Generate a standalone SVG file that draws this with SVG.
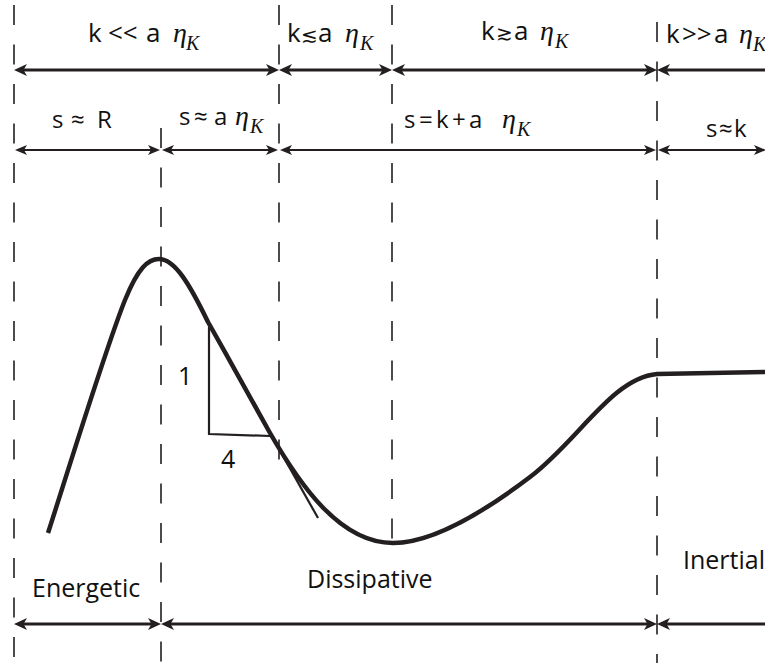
<svg xmlns="http://www.w3.org/2000/svg" width="765" height="663" viewBox="0 0 765 663">
  <defs>
    <marker id="ah" viewBox="0 0 13 12" markerUnits="userSpaceOnUse" markerWidth="13" markerHeight="12" refX="7" refY="6" orient="auto-start-reverse">
      <path d="M0,0 L13,6 L0,12 L3.5,6 Z" fill="#231f20"/>
    </marker>
    <marker id="ahs" viewBox="0 0 12 10" markerUnits="userSpaceOnUse" markerWidth="12" markerHeight="10" refX="7" refY="5" orient="auto-start-reverse">
      <path d="M0,0 L12,5 L0,10 L3,5 Z" fill="#231f20"/>
    </marker>
  </defs>
  <style>
    .dash { stroke: #231f20; stroke-width: 1.6; stroke-dasharray: 20 19.5; fill: none; }
    .thick { stroke: #231f20; stroke-width: 3; fill: none; marker-start: url(#ah); marker-end: url(#ah); }
    .thin { stroke: #231f20; stroke-width: 1.8; fill: none; marker-start: url(#ahs); marker-end: url(#ahs); }
    .curve { stroke: #231f20; stroke-width: 4.5; fill: none; stroke-linecap: butt; stroke-linejoin: round; }
    .tri { stroke: #231f20; stroke-width: 2.2; fill: none; }
    text { fill: #111; font-family: "Open Sans", "Noto Sans", sans-serif; }
    .t1 { font-size: 26px; }
    .t2 { font-size: 24px; }
    .t3 { font-size: 25px; }
    .num { font-size: 25px; }
    .eta { font-family: "Liberation Serif", serif; font-style: italic; font-size: 28px; }
    .sub { font-family: "Liberation Serif", serif; font-style: italic; font-size: 20px; }
    .sym { font-family: "DejaVu Sans", sans-serif; font-size: 20px; }
  </style>

  <g id="dividers">
    <line class="dash" x1="14" y1="5" x2="14" y2="663"/>
    <line class="dash" x1="161" y1="128" x2="161" y2="663"/>
    <line class="dash" x1="279" y1="5" x2="279" y2="470"/>
    <line class="dash" x1="392" y1="5" x2="392" y2="543"/>
    <line class="dash" x1="657" y1="22" x2="657" y2="663"/>
  </g>

  <g id="connectors">
    <line class="thick" x1="20" y1="70" x2="273" y2="70"/>
    <line class="thick" x1="285" y1="70" x2="386" y2="70"/>
    <line class="thick" x1="398" y1="70" x2="651" y2="70"/>
    <line class="thick" x1="663" y1="70" x2="790" y2="70"/>

    <line class="thin" x1="20" y1="150" x2="155" y2="150"/>
    <line class="thin" x1="167" y1="150" x2="273" y2="150"/>
    <line class="thin" x1="285" y1="150" x2="651" y2="150"/>
    <line class="thin" x1="663" y1="150" x2="761" y2="150"/>

    <line class="thick" x1="20" y1="624" x2="155" y2="624"/>
    <line class="thick" x1="167" y1="624" x2="651" y2="624"/>
    <line class="thick" x1="663" y1="624" x2="790" y2="624"/>
  </g>

  <g id="curve">
    <path class="curve" d="M48,533 C70,465 105,350 125,300 C138,268 148,259 159,259 C175,259 190,285 208,322 C229,359 250,397 270,433 C300,485 340,543 393,543 C430,543 480,515 530,477 C578,441 612,378 657,374 L765,372"/>
  </g>

  <g id="slope">
    <polyline class="tri" points="209,327 209,434 270,436"/>
    <line class="tri" x1="240" y1="380" x2="318" y2="518"/>
    <text class="num" x="178" y="385">1</text>
    <text class="num" x="221" y="468">4</text>
  </g>

  <g id="top-labels">
    <text class="t1" y="42"><tspan x="88">k</tspan><tspan x="108">&lt;&lt;</tspan><tspan x="146">a</tspan><tspan class="eta" x="173">η</tspan><tspan class="sub" x="186" y="50">K</tspan></text>
    <text class="t1" y="42"><tspan x="287">k</tspan><tspan class="sym" x="301">≲</tspan><tspan x="318">a</tspan><tspan class="eta" x="345">η</tspan><tspan class="sub" x="360" y="50">K</tspan></text>
    <text class="t1" y="40"><tspan x="481">k</tspan><tspan class="sym" x="496">≳</tspan><tspan x="514">a</tspan><tspan class="eta" x="540">η</tspan><tspan class="sub" x="555" y="48">K</tspan></text>
    <text class="t1" y="43"><tspan x="666">k</tspan><tspan x="682">&gt;&gt;</tspan><tspan x="714">a</tspan><tspan class="eta" x="739">η</tspan><tspan class="sub" x="753" y="51">K</tspan></text>
  </g>

  <g id="mid-labels">
    <text class="t2" y="128"><tspan x="52">s</tspan><tspan x="71">≈</tspan><tspan x="97">R</tspan></text>
    <text class="t2" y="125"><tspan x="179">s</tspan><tspan x="194">≈</tspan><tspan x="214">a</tspan><tspan class="eta" x="235">η</tspan><tspan class="sub" x="250" y="133">K</tspan></text>
    <text class="t2" y="128"><tspan x="404">s</tspan><tspan x="419">=</tspan><tspan x="436">k</tspan><tspan x="452">+</tspan><tspan x="469">a</tspan><tspan class="eta" x="502">η</tspan><tspan class="sub" x="517" y="136">K</tspan></text>
    <text class="t2" y="137"><tspan x="706">s</tspan><tspan x="719">≈</tspan><tspan x="734">k</tspan></text>
  </g>

  <g id="region-labels">
    <text class="t3" x="32" y="597">Energetic</text>
    <text class="t3" x="307" y="588">Dissipative</text>
    <text class="t3" x="683" y="569">Inertial</text>
  </g>
</svg>
